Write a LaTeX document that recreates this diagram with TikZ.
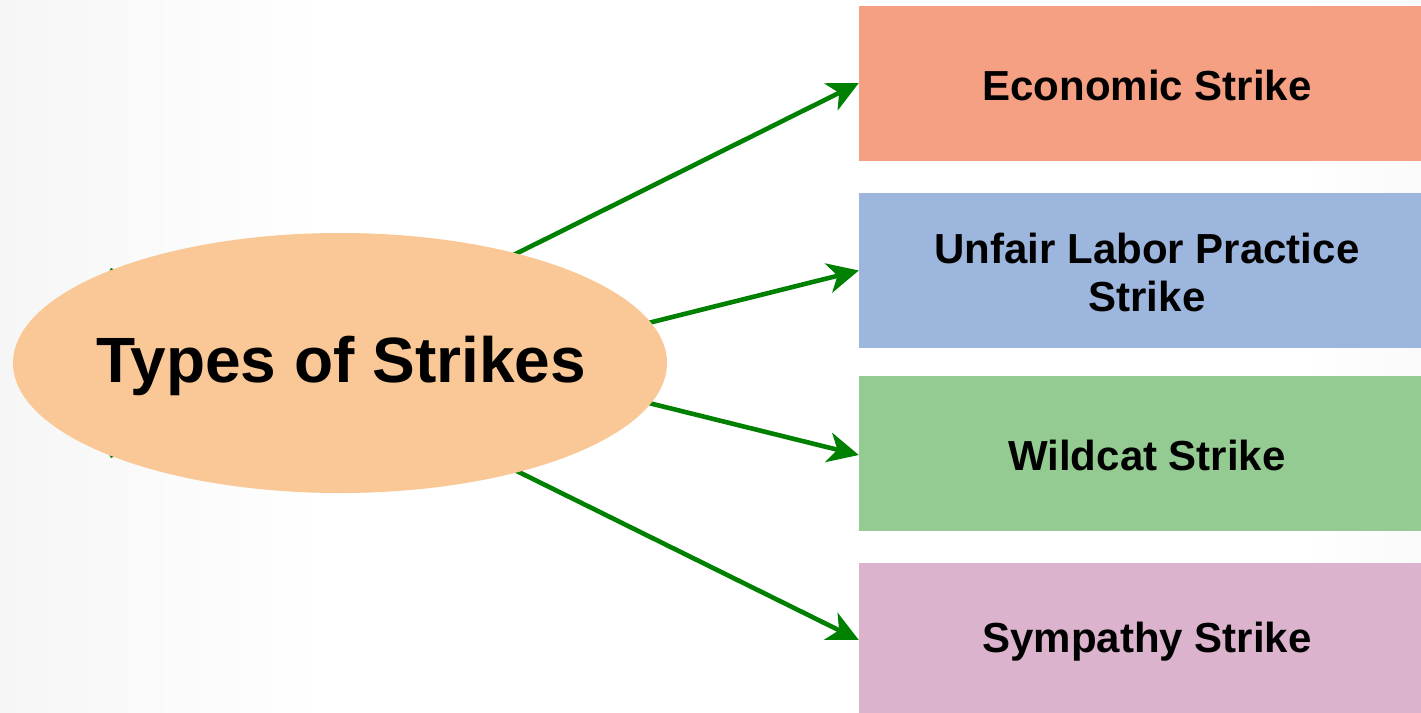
\documentclass[tikz,border=0pt]{standalone}
\usepackage{fontspec}
\setmainfont{Liberation Sans}
\usetikzlibrary{arrows.meta,shapes.geometric}
\definecolor{hubfill}{HTML}{F9C896}
\definecolor{econfill}{HTML}{F5A083}
\definecolor{ulpfill}{HTML}{9DB6DE}
\definecolor{wildfill}{HTML}{93CB92}
\definecolor{sympfill}{HTML}{DBB3CC}
\definecolor{linkgreen}{HTML}{008000}
\tikzset{
  hub/.style={ellipse, fill=hubfill, minimum width=654pt, minimum height=260pt,
    inner sep=0pt},
  hubtext/.style={inner sep=0pt, font=\fontsize{64}{76}\selectfont\bfseries},
  typebox/.style={rectangle, minimum width=562pt, minimum height=155pt, inner sep=0pt},
  typetext/.style={inner sep=0pt, align=center,
    font=\fontsize{42}{48}\selectfont\bfseries},
  link/.style={draw=linkgreen, line width=4.6pt,
    -{Stealth[length=31pt,width=30pt,inset=9pt]}}
}
\begin{document}
\begin{tikzpicture}[x=1pt,y=-1pt]
  \useasboundingbox (0,0) rectangle (1421,712);
  \clip (0,0) rectangle (1421,712);
  % soft grey wash along the edges of the canvas
  \fill[white] (0,0) rectangle (1421,712);
  \fill[left color=black!3.5, right color=white] (0,0) rectangle (330,712);
  \fill[left color=white, right color=black!2] (1300,0) rectangle (1421,712);

  % category boxes
  \node[typebox, fill=econfill] (econ) at (1140,83) {};
  \node[typebox, fill=ulpfill]  (ulp)  at (1140,270.5) {};
  \node[typebox, fill=wildfill] (wild) at (1140,453) {};
  \node[typebox, fill=sympfill] (symp) at (1140,640) {};
  \node[typetext] (econtext) at (1147,85) {Economic Strike};
  \node[typetext] (ulptext)  at (1147,272) {Unfair Labor Practice\\Strike};
  \node[typetext] (wildtext) at (1147,455) {Wildcat Strike};
  \node[typetext] (symptext) at (1147,642) {Sympathy Strike};

  % connector start points, hidden behind the central ellipse
  \coordinate (s1) at (110,456);
  \coordinate (s2) at (560,345);
  \coordinate (s3) at (560,381);
  \coordinate (s4) at (110,270);

  \draw[link] (s1) -- (econ.west);
  \draw[link] (s2) -- (ulp.west);
  \draw[link] (s3) -- (wild.west|-0,455);
  \draw[link] (s4) -- (symp.west);

  % central topic
  \node[hub] (hub) at (340,363) {};
  \node[hubtext] (hubtext) at (341,366) {Types of Strikes};
\end{tikzpicture}
\end{document}
